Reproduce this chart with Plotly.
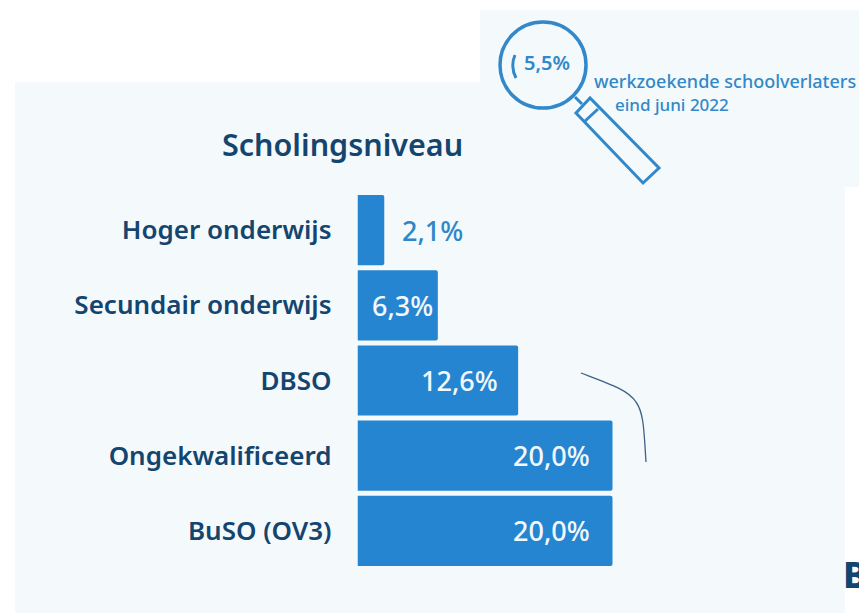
import plotly.graph_objects as go

W, H = 859, 613

categories = ["Hoger onderwijs", "Secundair onderwijs", "DBSO", "Ongekwalificeerd", "BuSO (OV3)"]
values = [2.1, 6.3, 12.6, 20.0, 20.0]
value_labels = ["2,1%", "6,3%", "12,6%", "20,0%", "20,0%"]
label_colors = ["#2f86c8", "#f2f8fc", "#f2f8fc", "#f2f8fc", "#f2f8fc"]
label_shifts = [16, -3, -18, -21, -21]

BAR = "#2585d0"
DARK = "#14456f"
LIGHT = "#3288c8"
PANEL = "#f4f9fc"
FONT = "Noto Sans"


def px(x):
    return x / W


def py(y):
    return 1 - y / H


def path(d):
    out = []
    for tok in d:
        if isinstance(tok, str):
            out.append(tok)
        else:
            out.append(f"{px(tok[0]):.5f},{py(tok[1]):.5f}")
    return " ".join(out)


def rect(x0, y0, x1, y1, **kw):
    return dict(type="rect", xref="paper", yref="paper", x0=px(x0), x1=px(x1),
                y0=py(y1), y1=py(y0), layer="below", **kw)


def seg(x0, y0, x1, y1, color=LIGHT, width=3):
    return dict(type="line", xref="paper", yref="paper", x0=px(x0), y0=py(y0),
                x1=px(x1), y1=py(y1), line=dict(color=color, width=width))


shapes = [
    rect(15, 82, 845, 613, fillcolor=PANEL, line_width=0),
    rect(480, 10, 859, 187, fillcolor=PANEL, line_width=0),
    # magnifying glass
    dict(type="circle", xref="paper", yref="paper", x0=px(500), x1=px(586),
         y0=py(108), y1=py(22), line=dict(color=LIGHT, width=3.5)),
    dict(type="path", xref="paper", yref="paper",
         path=path(["M", (515, 55), "Q", (510, 66), (516, 78)]),
         line=dict(color=LIGHT, width=3)),
    seg(575, 97, 582, 104),
    dict(type="path", xref="paper", yref="paper",
         path=path(["M", (590, 98), "L", (576, 113), "L", (643, 183), "L", (659, 168), "Z"]),
         line=dict(color=LIGHT, width=3)),
    seg(598, 109, 584, 122),
    # thin curve
    dict(type="path", xref="paper", yref="paper",
         path=path(["M", (581, 373), "C", (610, 384), (628, 390), (636, 402),
                    "C", (644, 413), (644, 432), (646, 462)]),
         line=dict(color="#3f6186", width=1.3)),
]

annotations = [
    dict(text=t, x=v, y=c, xref="x", yref="y", xanchor="right" if s <= 0 else "left",
         xshift=s, showarrow=False, font=dict(family=FONT, size=27, color=col, weight=500))
    for t, v, c, col, s in zip(value_labels, values, categories, label_colors, label_shifts)
]


def note(text, x, y, size, color, anchor="left", weight=500):
    return dict(text=text, x=px(x), y=py(y), xref="paper", yref="paper", xanchor=anchor,
                yanchor="middle", showarrow=False,
                font=dict(family=FONT, size=size, color=color, weight=weight))


annotations += [
    note("Scholingsniveau", 220, 144, 30.5, DARK, weight=600),
    note("5,5%", 522, 63, 20, LIGHT, weight=600),
    note("werkzoekende schoolverlaters", 592, 81, 18, LIGHT, weight=500),
    note("eind juni 2022", 613, 104, 17, LIGHT, weight=500),
    note("B", 841, 574, 36, DARK, weight=800),
]

fig = go.Figure(go.Bar(
    x=values, y=categories, orientation="h",
    marker=dict(color=BAR, cornerradius=2, line_width=0),
    hoverinfo="skip",
))

fig.update_layout(
    width=W, height=H,
    margin=dict(l=0, r=0, t=0, b=0),
    paper_bgcolor="white", plot_bgcolor="rgba(0,0,0,0)",
    showlegend=False, bargap=0.066,
    shapes=shapes, annotations=annotations,
    xaxis=dict(domain=[px(357.5), px(830)], range=[0, 472.5 / 12.75], visible=False),
    yaxis=dict(domain=[py(568.5), py(192.5)], autorange="reversed", type="category",
               categoryorder="array", categoryarray=categories, showline=False,
               showgrid=False, ticks="", ticklabelstandoff=25,
               tickfont=dict(family=FONT, size=26, color=DARK, weight=600)),
)

fig.write_html("out.html", config=dict(displayModeBar=False),
               post_script="document.body.style.margin='0';")
